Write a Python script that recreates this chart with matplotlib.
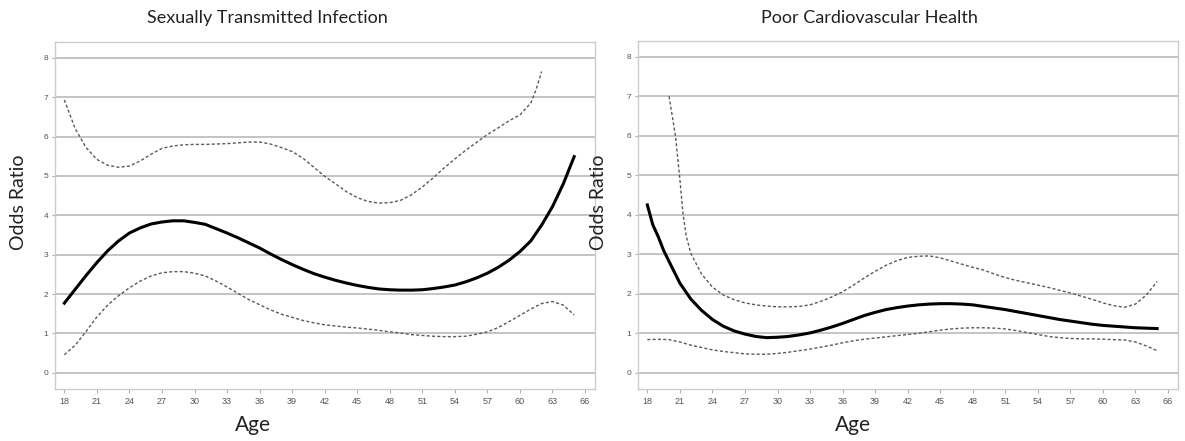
import matplotlib
matplotlib.use("Agg")
import matplotlib.pyplot as plt
from matplotlib import font_manager

# ------ Data ------
STI_AGE = list(range(18, 66))
STI_OR = [1.77, 2.12, 2.47, 2.80, 3.10, 3.35, 3.55, 3.68, 3.78, 3.83,
          3.86, 3.86, 3.82, 3.77, 3.66, 3.55, 3.43, 3.30, 3.17, 3.02,
          2.88, 2.75, 2.63, 2.52, 2.43, 2.35, 2.28, 2.22, 2.17, 2.13,
          2.11, 2.10, 2.10, 2.11, 2.14, 2.18, 2.23, 2.31, 2.41, 2.53,
          2.68, 2.86, 3.08, 3.35, 3.75, 4.22, 4.80, 5.49]
STI_LO = [0.46, 0.70, 1.05, 1.42, 1.72, 1.96, 2.16, 2.33, 2.46, 2.54,
          2.57, 2.57, 2.53, 2.46, 2.33, 2.18, 2.02, 1.86, 1.73, 1.60,
          1.49, 1.41, 1.33, 1.27, 1.22, 1.19, 1.16, 1.14, 1.11, 1.08,
          1.04, 1.01, 0.97, 0.95, 0.93, 0.92, 0.92, 0.93, 0.98, 1.04,
          1.15, 1.30, 1.46, 1.62, 1.76, 1.81, 1.72, 1.47]
STI_HI_AGE = list(range(18, 62)) + [61.5, 62]
STI_HI = [6.93, 6.20, 5.72, 5.42, 5.27, 5.22, 5.25, 5.38, 5.55, 5.70,
          5.76, 5.79, 5.80, 5.80, 5.81, 5.82, 5.84, 5.86, 5.86, 5.81,
          5.72, 5.62, 5.45, 5.22, 4.99, 4.80, 4.60, 4.45, 4.35, 4.31,
          4.32, 4.38, 4.52, 4.72, 4.95, 5.20, 5.43, 5.65, 5.85, 6.05,
          6.22, 6.40, 6.55, 6.85, 7.20, 7.65]

CVH_AGE = [18, 18.5, 19, 19.5, 20] + list(range(21, 66))
CVH_OR = [4.25, 3.75, 3.45, 3.10, 2.82, 2.27, 1.87, 1.58, 1.35, 1.18,
          1.06, 0.98, 0.92, 0.89, 0.90, 0.92, 0.96, 1.01, 1.08, 1.16,
          1.25, 1.35, 1.45, 1.53, 1.60, 1.65, 1.69, 1.72, 1.74, 1.75,
          1.75, 1.74, 1.72, 1.68, 1.64, 1.60, 1.55, 1.50, 1.45, 1.40,
          1.35, 1.31, 1.27, 1.23, 1.20, 1.18, 1.16, 1.14, 1.13, 1.12]
CVH_LO_AGE = list(range(18, 66))
CVH_LO = [0.84, 0.85, 0.84, 0.78, 0.70, 0.64, 0.58, 0.54, 0.51, 0.48,
          0.47, 0.47, 0.49, 0.52, 0.56, 0.60, 0.65, 0.70, 0.76, 0.81,
          0.85, 0.88, 0.91, 0.94, 0.97, 1.00, 1.04, 1.08, 1.11, 1.13,
          1.14, 1.14, 1.13, 1.11, 1.07, 1.02, 0.97, 0.92, 0.89, 0.87,
          0.86, 0.86, 0.85, 0.84, 0.83, 0.78, 0.68, 0.56]
CVH_HI_AGE = [20, 20.3, 20.6, 21.0, 21.3, 21.6] + list(range(22, 66))
CVH_HI = [7.00, 6.50, 5.98, 4.90, 4.00, 3.45, 3.03, 2.50, 2.17, 1.97,
          1.85, 1.77, 1.72, 1.69, 1.67, 1.67, 1.68, 1.72, 1.81, 1.92,
          2.05, 2.22, 2.40, 2.57, 2.72, 2.84, 2.92, 2.95, 2.96, 2.91,
          2.83, 2.75, 2.67, 2.60, 2.50, 2.41, 2.34, 2.28, 2.22, 2.16,
          2.09, 2.02, 1.94, 1.86, 1.77, 1.70, 1.66, 1.74, 1.97, 2.31]

TITLES = ["Sexually Transmitted Infection", "Poor Cardiovascular Health"]
X_TICKS = list(range(18, 67, 3))
Y_TICKS = list(range(0, 9))

# ------ Fonts ------
installed = {f.name for f in font_manager.fontManager.ttflist}
LABEL_FONT = "Lato" if "Lato" in installed else "DejaVu Sans"
TICK_FONT = "Liberation Sans Narrow" if "Liberation Sans Narrow" in installed else "Liberation Sans"

W, H = 1185, 441
fig = plt.figure(figsize=(W / 100, H / 100), dpi=100)

def px_axes(x0, x1, y0, y1):
    return fig.add_axes([x0 / W, 1 - y1 / H, (x1 - x0) / W, (y1 - y0) / H])

panels = [
    dict(box=(55, 595, 42, 389), series=[(STI_HI_AGE, STI_HI), (STI_LO_AGE := STI_AGE, STI_LO)],
         main=(STI_AGE, STI_OR), title_x=267, ylab_x=19, age_x=253),
    dict(box=(638, 1178, 41, 389), series=[(CVH_HI_AGE, CVH_HI), (CVH_LO_AGE, CVH_LO)],
         main=(CVH_AGE, CVH_OR), title_x=869, ylab_x=598, age_x=853),
]

for p, title in zip(panels, TITLES):
    ax = px_axes(*p["box"])
    ax.set_xlim(17.14, 66.92)
    ax.set_ylim(-0.41, 8.4)
    for y in Y_TICKS:
        ax.axhline(y, color="#b4b4b4", lw=1.1, zorder=1)
    for xs, ys in p["series"]:
        ax.plot(xs, ys, color="#5a5a5a", lw=1.0, ls=(0, (2.2, 1.6)), zorder=2)
    ax.plot(*p["main"], color="black", lw=2.2, zorder=3)

    ax.set_xticks(X_TICKS)
    ax.set_yticks(Y_TICKS)
    for s in ax.spines.values():
        s.set_color("#cccccc")
        s.set_linewidth(1.0)
    ax.tick_params(axis="x", length=3, width=0.8, color="#b0b0b0", pad=3,
                   labelsize=6.5, labelcolor="#555555")
    ax.tick_params(axis="y", length=2, width=0.8, color="#b0b0b0", pad=3,
                   labelsize=6, labelcolor="#555555")
    for lab in ax.get_xticklabels() + ax.get_yticklabels():
        lab.set_fontfamily(TICK_FONT)

    fig.text(p["title_x"] / W, 1 - 18 / H, title, ha="center", va="center",
             fontsize=13, family=LABEL_FONT, color="#222222")
    fig.text(p["ylab_x"] / W, 1 - 202 / H, "Odds Ratio", ha="center", va="center",
             rotation=90, fontsize=14, family=LABEL_FONT, color="#222222")
    fig.text(p["age_x"] / W, 1 - 425 / H, "Age", ha="center", va="center",
             fontsize=15, family=LABEL_FONT, color="#222222")

fig.savefig("out.png", dpi=100, facecolor="white")
